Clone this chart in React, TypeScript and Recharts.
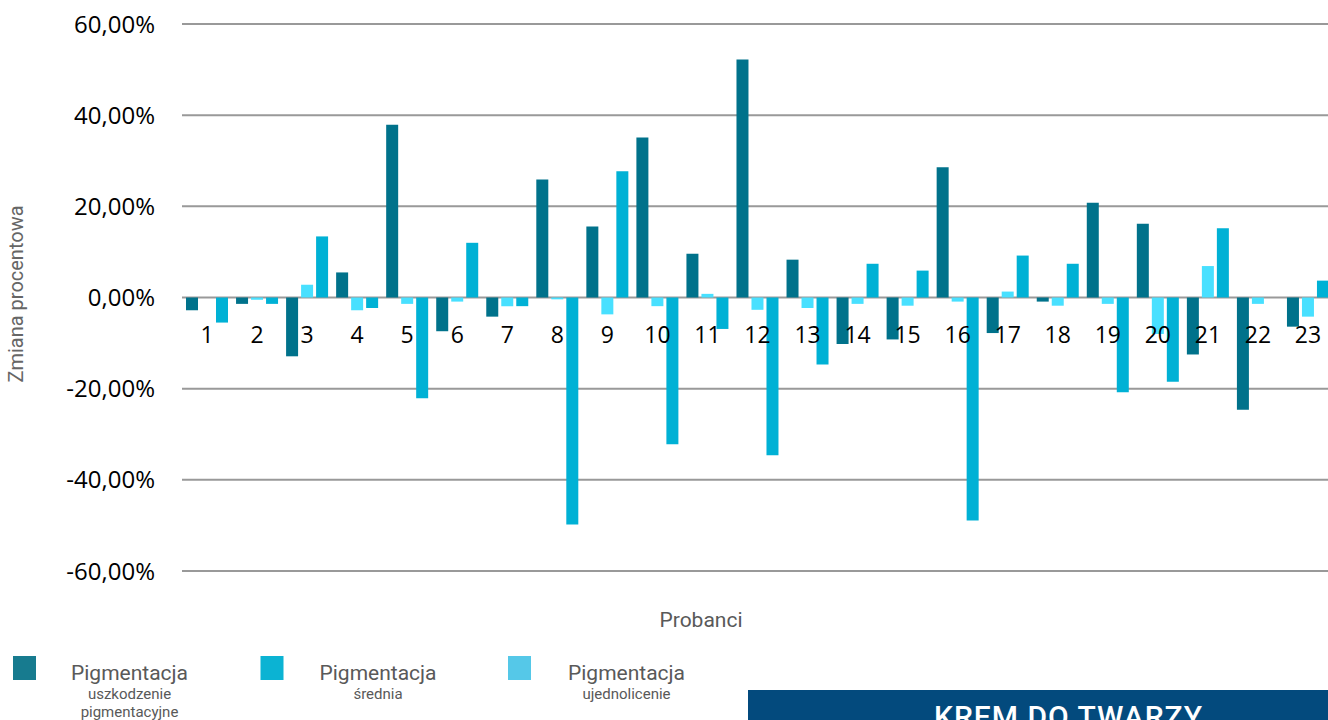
import React from "react";
import { Bar, BarChart, CartesianGrid, XAxis, YAxis } from "recharts";

const categories = ["1", "2", "3", "4", "5", "6", "7", "8", "9", "10", "11", "12", "13", "14", "15", "16", "17", "18", "19", "20", "21", "22", "23"];

// Pigmentacja – uszkodzenie pigmentacyjne
const uszkodzenie = [-2.8, -1.4, -12.9, 5.5, 37.9, -7.4, -4.2, 25.9, 15.6, 35.1, 9.6, 52.2, 8.3, -10.2, -9.2, 28.6, -7.8, -0.9, 20.8, 16.2, -12.5, -24.6, -6.4];
// Pigmentacja – średnia
const srednia = [-5.5, -1.4, 13.4, -2.3, -22.1, 12.0, -1.9, -49.8, 27.7, -32.2, -6.9, -34.6, -14.7, 7.4, 5.9, -48.9, 9.2, 7.4, -20.8, -18.5, 15.2, 0, 3.7];
// Pigmentacja – ujednolicenie
const ujednolicenie = [0, -0.5, 2.8, -2.8, -1.4, -0.9, -1.9, -0.4, -3.7, -1.9, 0.8, -2.7, -2.3, -1.4, -1.8, -0.9, 1.3, -1.8, -1.4, -8.0, 6.9, -1.4, -4.2];

const yTicks = [-60, -40, -20, 0, 20, 40, 60];

const legendItems = [
  { title: "Pigmentacja", sub: ["uszkodzenie", "pigmentacyjne"], color: "#177B8F" },
  { title: "Pigmentacja", sub: ["średnia"], color: "#0BB3D3" },
  { title: "Pigmentacja", sub: ["ujednolicenie"], color: "#55C8E8" },
];

const data = categories.map((name, i) => ({
  name,
  usz: uszkodzenie[i],
  ujed: ujednolicenie[i],
  sr: srednia[i],
}));

const TOP = 24;
const PLOT_H = 547;
const ZERO_Y = TOP + PLOT_H / 2;

const fmt = (v: number) => v.toFixed(2).replace(".", ",") + "%";

function XTick(props: any) {
  const { x, payload } = props;
  return (
    <text x={x} y={ZERO_Y + 45} textAnchor="middle" fill="#000" fontSize={23} fontFamily="Open Sans">
      {payload.value}
    </text>
  );
}

export default function App() {
  return (
    <div style={{ position: "absolute", left: 0, top: 0, width: 1328, height: 720, overflow: "hidden", background: "#fff" }}>
      <BarChart
        width={1333}
        height={TOP + PLOT_H + 30}
        data={data}
        margin={{ top: TOP, right: 0, bottom: 0, left: 0 }}
        barSize={12}
        barGap={3}
      >
        <CartesianGrid vertical={false} stroke="#999" strokeWidth={2} />
        <XAxis dataKey="name" height={30} axisLine={false} tickLine={false} tick={<XTick />} interval={0} />
        <YAxis
          width={182}
          domain={[-60, 60]}
          ticks={yTicks}
          tickFormatter={fmt}
          axisLine={false}
          tickLine={false}
          tickSize={0}
          tickMargin={27}
          tick={{ fill: "#000", fontSize: 24, fontFamily: "Open Sans" }}
        />
        <Bar dataKey="usz" fill="#00728B" isAnimationActive={false} />
        <Bar dataKey="ujed" fill="#48E0FF" isAnimationActive={false} />
        <Bar dataKey="sr" fill="#00B1D5" isAnimationActive={false} />
      </BarChart>

      <svg width={1328} height={720} style={{ position: "absolute", left: 0, top: 0, pointerEvents: "none" }}>
        <text
          transform="translate(23,294) rotate(-90)"
          textAnchor="middle"
          fill="#666"
          fontSize={20}
          fontFamily="Roboto"
        >
          Zmiana procentowa
        </text>
        <text x={701} y={627} textAnchor="middle" fill="#595959" fontSize={21} fontFamily="Roboto">
          Probanci
        </text>
        {legendItems.map((item, i) => {
          const sx = 13 + i * 247.5;
          const cx = 129.5 + i * 248.5;
          return (
            <g key={i}>
              <rect x={sx} y={656} width={23} height={24} fill={item.color} />
              <text x={cx} y={680} textAnchor="middle" fill="#595959" fontSize={21} fontFamily="Roboto">
                {item.title}
              </text>
              {item.sub.map((s, j) => (
                <text key={j} x={cx} y={699 + j * 18} textAnchor="middle" fill="#595959" fontSize={15} fontFamily="Roboto">
                  {s}
                </text>
              ))}
            </g>
          );
        })}
        <rect x={748} y={690} width={580} height={40} fill="#034A7D" />
        <text x={934} y={727} textLength={268} fill="#fff" fontSize={30} fontWeight={500} fontFamily="Roboto">
          KREM DO TWARZY
        </text>
      </svg>
    </div>
  );
}
